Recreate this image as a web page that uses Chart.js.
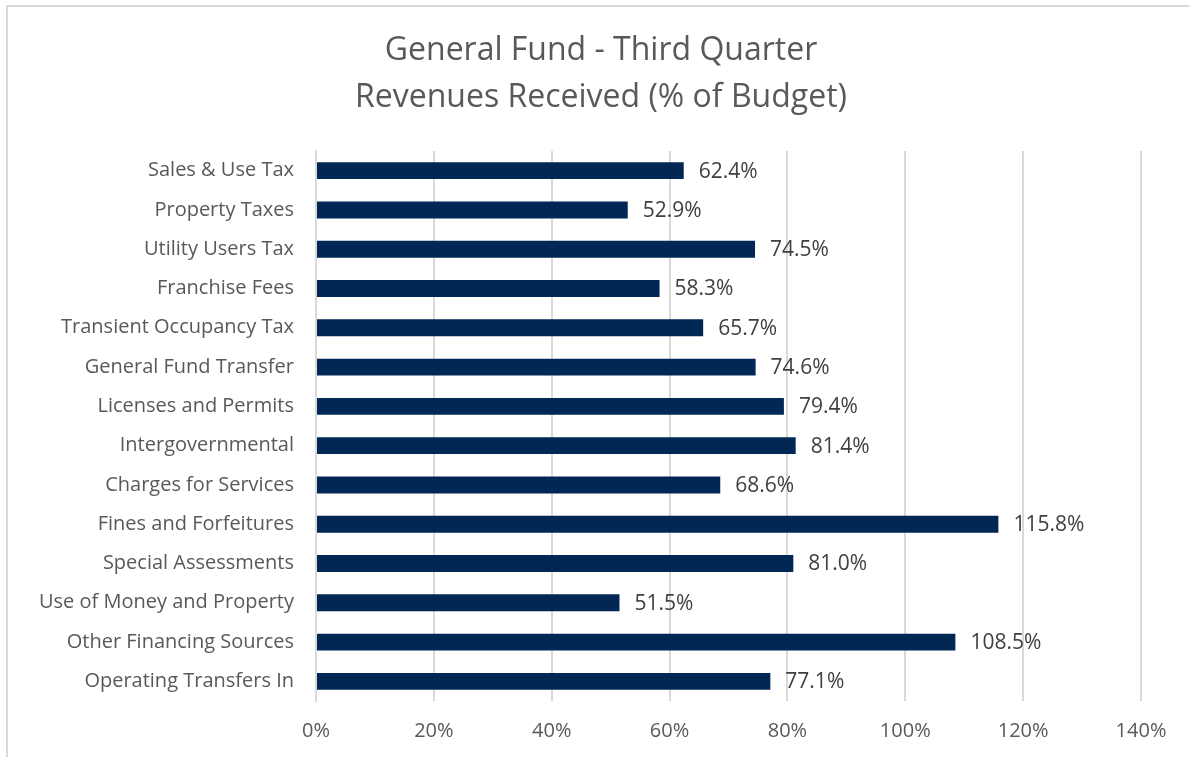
<!DOCTYPE html>
<html>
<head>
<meta charset="utf-8">
<script src="https://cdn.jsdelivr.net/npm/chart.js@4"></script>
<style>
  html, body { margin: 0; padding: 0; background: #ffffff; }
  #chart { display: block; }
</style>
</head>
<body>
<canvas id="chart" width="1189" height="757"></canvas>
<script>
// Chart data
const categories = [
  'Sales & Use Tax',
  'Property Taxes',
  'Utility Users Tax',
  'Franchise Fees',
  'Transient Occupancy Tax',
  'General Fund Transfer',
  'Licenses and Permits',
  'Intergovernmental',
  'Charges for Services',
  'Fines and Forfeitures',
  'Special Assessments',
  'Use of Money and Property',
  'Other Financing Sources',
  'Operating Transfers In',
];
const percentReceived = [62.4, 52.9, 74.5, 58.3, 65.7, 74.6, 79.4, 81.4, 68.6, 115.8, 81.0, 51.5, 108.5, 77.1];
const titleLines = ['General Fund - Third Quarter', 'Revenues Received (% of Budget)'];
const xMin = 0;
const xMax = 140;
const xStep = 20;

const fontFamily = "'Open Sans', 'Noto Sans', sans-serif";

// Title (centred on the whole frame, like the original), value labels and frame border
const decorations = {
  id: 'decorations',
  afterDatasetsDraw(chart) {
    const ctx = chart.ctx;
    const meta = chart.getDatasetMeta(0);
    ctx.save();
    ctx.font = '21px ' + fontFamily;
    ctx.fillStyle = '#404040';
    ctx.textAlign = 'left';
    ctx.textBaseline = 'middle';
    meta.data.forEach((bar, i) => {
      ctx.fillText(percentReceived[i].toFixed(1) + '%', bar.x + 15, bar.y + 1);
    });
    ctx.restore();
  },
  afterDraw(chart) {
    const ctx = chart.ctx;
    ctx.save();
    ctx.font = '32px ' + fontFamily;
    ctx.fillStyle = '#595959';
    ctx.textAlign = 'center';
    ctx.textBaseline = 'middle';
    titleLines.forEach((line, i) => {
      ctx.fillText(line, 601, 51 + i * 47);
    });
    ctx.strokeStyle = '#d9d9d9';
    ctx.lineWidth = 2;
    ctx.beginPath();
    ctx.moveTo(7, 800);
    ctx.lineTo(7, 6);
    ctx.lineTo(1200, 6);
    ctx.stroke();
    ctx.restore();
  },
};

new Chart(document.getElementById('chart'), {
  type: 'bar',
  data: {
    labels: categories,
    datasets: [
      {
        data: percentReceived,
        backgroundColor: '#012754',
        borderWidth: 0,
        barPercentage: 0.86,
        categoryPercentage: 0.5,
      },
    ],
  },
  options: {
    indexAxis: 'y',
    responsive: false,
    animation: false,
    layout: { padding: { left: 0, right: 48, top: 151, bottom: 6 } },
    plugins: {
      legend: { display: false },
      tooltip: { enabled: false },
      title: { display: false },
    },
    scales: {
      x: {
        min: xMin,
        max: xMax,
        ticks: {
          stepSize: xStep,
          color: '#595959',
          font: { family: fontFamily, size: 20 },
          padding: 18,
          callback: (v) => v + '%',
        },
        grid: { color: '#d9d9d9', lineWidth: 2, drawTicks: false },
        border: { display: false },
        afterFit(scale) { scale.height = 50; },
      },
      y: {
        ticks: {
          color: '#595959',
          font: { family: fontFamily, size: 20 },
          padding: 22,
        },
        grid: { display: false, drawTicks: false },
        border: { display: true, color: '#d9d9d9', width: 2 },
        afterFit(scale) { scale.width = 316; },
      },
    },
  },
  plugins: [decorations],
});
</script>
</body>
</html>
